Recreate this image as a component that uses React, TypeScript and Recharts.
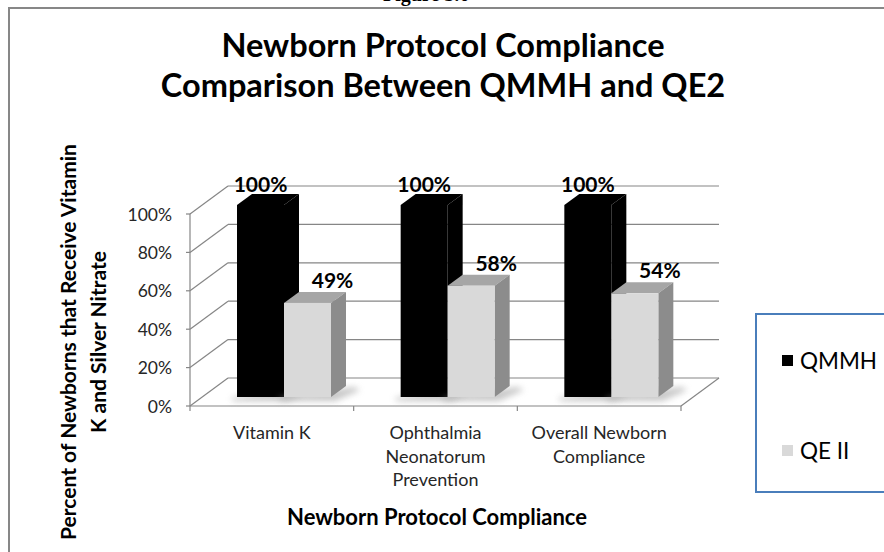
import React from 'react';
import { BarChart, Bar, XAxis, YAxis, CartesianGrid, LabelList, Legend } from 'recharts';

const categoryNames = ['Vitamin K', 'Ophthalmia Neonatorum Prevention', 'Overall Newborn Compliance'];
const categoryLines = [['Vitamin K'], ['Ophthalmia', 'Neonatorum', 'Prevention'], ['Overall Newborn', 'Compliance']];
const qmmhValues = [1.0, 1.0, 1.0];
const qe2Values = [0.49, 0.58, 0.54];
const yTicks = [0, 0.2, 0.4, 0.6, 0.8, 1.0];
const seriesNames = ['QMMH', 'QE II'];
const titleLines = ['Newborn Protocol Compliance', 'Comparison Between QMMH and QE2'];
const yTitleLines = ['Percent of Newborns that Receive Vitamin', 'K and Silver Nitrate'];
const xTitle = 'Newborn Protocol Compliance';

const data = categoryNames.map((name, i) => ({
  name,
  lines: categoryLines[i],
  qmmh: qmmhValues[i],
  qe2: qe2Values[i],
}));

const FONT = 'Lato, "Open Sans", sans-serif';
const GRID = '#868686';
const FRONT = { dx: -12, dy: 9 };
const BACK = { dx: 26, dy: -19 };
const DEPTH = { dx: 15, dy: -11 };

const gridLine = (props: any) => {
  const { x1, y1, x2, index, x, y, width, height } = props;
  const bottom = y + height;
  const isFloor = Math.abs(y1 - bottom) < 0.5;
  const fx = x1 + FRONT.dx;
  const fy = y1 + FRONT.dy;
  const bx1 = x1 + BACK.dx;
  const bx2 = x2 + BACK.dx;
  const by = y1 + BACK.dy;
  const n = data.length;
  return (
    <g key={`grid-${index}`}>
      <line x1={fx} y1={fy} x2={bx1} y2={by} stroke={GRID} strokeWidth={1.2} />
      <line x1={bx1} y1={by} x2={bx2} y2={by} stroke={GRID} strokeWidth={1.2} />
      <line x1={fx - 4} y1={fy} x2={fx} y2={fy} stroke={GRID} strokeWidth={1.2} />
      {index === 0 && (
        <line x1={x + FRONT.dx} y1={y + FRONT.dy} x2={x + FRONT.dx} y2={bottom + FRONT.dy} stroke={GRID} strokeWidth={1.2} />
      )}
      {isFloor && (
        <g>
          <line x1={fx} y1={fy} x2={x2 + FRONT.dx} y2={fy} stroke={GRID} strokeWidth={1.2} />
          <line x1={x2 + FRONT.dx} y1={fy} x2={bx2} y2={by} stroke={GRID} strokeWidth={1.2} />
          {Array.from({ length: n + 1 }).map((_, i) => (
            <line
              key={`ct-${i}`}
              x1={fx + (i * width) / n}
              y1={fy}
              x2={fx + (i * width) / n}
              y2={fy + 5}
              stroke={GRID}
              strokeWidth={1.2}
            />
          ))}
        </g>
      )}
    </g>
  );
};

const makeBarShape = (front: string, top: string, side: string) => (props: any) => {
  const { x, y, width, height } = props;
  if (width == null || height == null) return null;
  const dx = DEPTH.dx;
  const dy = DEPTH.dy;
  const b = y + height;
  return (
    <g>
      <defs>
        <filter id="barShadow" x="-50%" y="-50%" width="200%" height="200%">
          <feGaussianBlur stdDeviation="3" />
        </filter>
      </defs>
      <polygon
        points={`${x - 6},${b + 1} ${x + width + dx + 8},${b + dy + 1} ${x + width + dx + 14},${b + dy + 4} ${x + width + 4},${b + 4} ${x - 4},${b + 4}`}
        fill="#9a9a9a"
        opacity={0.55}
        filter="url(#barShadow)"
      />
      <polygon
        points={`${x},${y} ${x + dx},${y + dy} ${x + width + dx},${y + dy} ${x + width},${y}`}
        fill={top}
      />
      <polygon
        points={`${x + width},${y} ${x + width + dx},${y + dy} ${x + width + dx},${b + dy} ${x + width},${b}`}
        fill={side}
      />
      <rect x={x} y={y} width={width} height={height} fill={front} />
    </g>
  );
};

const makeLabel = (xOff: number, yOff: number) => (props: any) => {
  const { x, y, width, value } = props;
  return (
    <text
      x={x + width / 2 + xOff}
      y={y + yOff}
      textAnchor="middle"
      fontFamily={FONT}
      fontWeight={700}
      fontSize={21}
      fill="#000"
    >
      {`${Math.round(value * 100)}%`}
    </text>
  );
};

const YTick = (props: any) => {
  const { x, y, payload } = props;
  return (
    <text
      x={x + FRONT.dx - 18}
      y={y + FRONT.dy}
      textAnchor="end"
      dominantBaseline="central"
      fontFamily={FONT}
      fontSize={17.5}
      fill="#262626"
    >
      {`${Math.round(payload.value * 100)}%`}
    </text>
  );
};

const XTick = (props: any) => {
  const { x, y, index } = props;
  const lines = data[index] ? data[index].lines : [];
  return (
    <text textAnchor="middle" fontFamily={FONT} fontSize={18} fill="#262626">
      {lines.map((l: string, i: number) => (
        <tspan key={i} x={x + FRONT.dx} y={y + 42 + i * 23.5}>
          {l}
        </tspan>
      ))}
    </text>
  );
};

const renderLegend = (props: any) => {
  const payload = [...(props.payload || [])].sort(
    (a: any, b: any) => seriesNames.indexOf(a.value) - seriesNames.indexOf(b.value)
  );
  return (
    <div
      style={{
        position: 'relative',
        width: 140,
        height: 180,
        border: '2px solid #4a7ebb',
        boxSizing: 'border-box',
        background: '#fff',
        fontFamily: FONT,
      }}
    >
      {payload.map((p: any, i: number) => (
        <div
          key={p.value}
          style={{
            position: 'absolute',
            left: 25,
            top: 31 + i * 90,
            height: 28,
            display: 'flex',
            alignItems: 'center',
            fontSize: 22.5,
            color: '#000',
            whiteSpace: 'nowrap',
          }}
        >
          <span style={{ display: 'inline-block', width: 11, height: 11, background: p.color, marginRight: 7 }} />
          <span>{p.value}</span>
        </div>
      ))}
    </div>
  );
};

export default function App() {
  return (
    <div style={{ position: 'absolute', left: 0, top: 0, width: 884, height: 552, overflow: 'hidden', background: '#fff' }}>
      <svg width={884} height={552} style={{ position: 'absolute', left: 0, top: 0 }}>
        <text x={383} y={1} fontFamily='"Liberation Serif", serif' fontWeight={700} fontSize={20} fill="#000">
          Figure 5.6
        </text>
        <line x1={9} y1={8} x2={884} y2={8} stroke="#878787" strokeWidth={2} />
        <line x1={9} y1={7} x2={9} y2={552} stroke="#878787" strokeWidth={2} />
        <text textAnchor="middle" fontFamily={FONT} fontWeight={700} fontSize={32.5} fill="#000">
          <tspan x={443} y={57}>{titleLines[0]}</tspan>
          <tspan x={443} y={97}>{titleLines[1]}</tspan>
        </text>
        <text
          transform="translate(0,342) rotate(-90)"
          textAnchor="middle"
          fontFamily={FONT}
          fontWeight={700}
          fontSize={21}
          fill="#000"
        >
          <tspan x={0} y={76}>{yTitleLines[0]}</tspan>
          <tspan x={0} y={106}>{yTitleLines[1]}</tspan>
        </text>
        <text x={437} y={525} textAnchor="middle" fontFamily={FONT} fontWeight={700} fontSize={22} fill="#000">
          {xTitle}
        </text>
      </svg>
      <div style={{ position: 'absolute', left: 0, top: 0 }}>
        <BarChart
          width={884}
          height={552}
          data={data}
          margin={{ top: 205, left: 162, right: 191, bottom: 125 }}
          barSize={47}
          barGap={0}
        >
          <CartesianGrid vertical={false} horizontal={gridLine} stroke={GRID} />
          <XAxis
            dataKey="name"
            height={30}
            axisLine={false}
            tickLine={false}
            tickSize={0}
            tickMargin={0}
            interval={0}
            tick={<XTick />}
          />
          <YAxis
            width={40}
            domain={[0, 1]}
            ticks={yTicks}
            axisLine={false}
            tickLine={false}
            tickSize={0}
            tickMargin={0}
            tick={<YTick />}
          />
          <Legend
            layout="vertical"
            align="center"
            verticalAlign="middle"
            content={renderLegend}
            wrapperStyle={{ position: 'absolute', left: 755, top: 313, width: 140, height: 180 }}
          />
          <Bar
            dataKey="qmmh"
            name={seriesNames[0]}
            fill="#000000"
            legendType="square"
            isAnimationActive={false}
            shape={makeBarShape('#000000', '#000000', '#000000')}
          >
            <LabelList dataKey="qmmh" content={makeLabel(0, -13)} />
          </Bar>
          <Bar
            dataKey="qe2"
            name={seriesNames[1]}
            fill="#d9d9d9"
            legendType="square"
            isAnimationActive={false}
            shape={makeBarShape('#d9d9d9', '#a6a6a6', '#8c8c8c')}
          >
            <LabelList dataKey="qe2" content={makeLabel(25, -15)} />
          </Bar>
        </BarChart>
      </div>
    </div>
  );
}
